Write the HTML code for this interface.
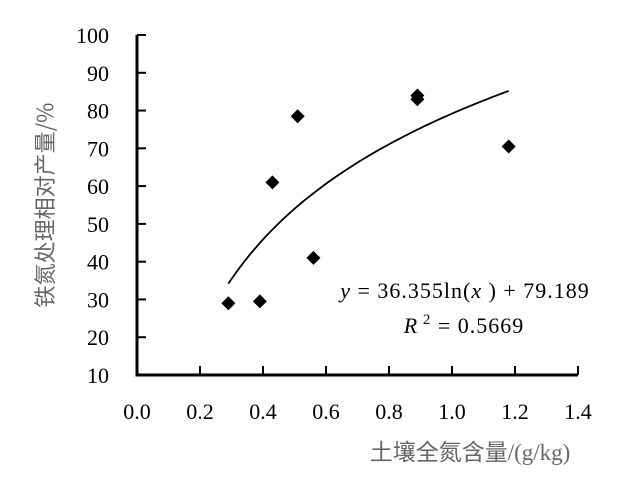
<!DOCTYPE html>
<html><head><meta charset="utf-8"><style>
body{margin:0;background:#fff}
svg text{font-family:"Liberation Serif","Noto Serif CJK SC",serif}
</style></head><body>
<svg id="chart" width="641" height="476" xmlns="http://www.w3.org/2000/svg">
<g id="axes"></g><g id="marks"></g>
<text transform="translate(53,205) rotate(-90)" text-anchor="middle" font-size="22" fill="#666" style="font-family:'Noto Sans CJK SC',sans-serif">铁氮处理相对产量/%</text>
<text x="470" y="460" text-anchor="middle" font-size="23" fill="#666" style="font-family:'Liberation Serif','Noto Sans CJK SC',serif">土壤全氮含量/(g/kg)</text>
<text x="465" y="298" text-anchor="middle" font-size="22" letter-spacing="1" fill="#000"><tspan font-style="italic">y</tspan> = 36.355ln(<tspan font-style="italic">x</tspan> ) + 79.189</text>
<text x="464" y="333" text-anchor="middle" font-size="22" letter-spacing="1" fill="#000"><tspan font-style="italic">R</tspan><tspan dy="-9" font-size="15"> 2</tspan><tspan dy="9"> = 0.5669</tspan></text>
</svg>
<script>
const xTicks=["0.0","0.2","0.4","0.6","0.8","1.0","1.2","1.4"];
const yTicks=["10","20","30","40","50","60","70","80","90","100"];
const xs=[0.29,0.39,0.43,0.51,0.56,0.89,0.89,1.18];
const ys=[29,29.5,61,78.5,41,84,83,70.5];
const fitA=36.355, fitB=79.189, fitMin=0.29, fitMax=1.18;
const NS="http://www.w3.org/2000/svg";
const X=v=>137+v*315, Y=v=>375-(v-10)*(340/90);
function mk(t,a,p){const e=document.createElementNS(NS,t);for(const k in a)e.setAttribute(k,a[k]);p.appendChild(e);return e;}
const ax=document.getElementById('axes'), mg=document.getElementById('marks');
const axl=mk('path',{d:`M${X(0)},${Y(100)}V${Y(10)}H${X(1.4)}`,fill:'none',stroke:'#000','stroke-width':3},ax);


yTicks.forEach(t=>{const v=+t,y=Y(v);
 const l=mk('line',{x1:X(0),x2:X(0)+9,y1:y,y2:y,stroke:'#000','stroke-width':2},ax);
 
 
 const tx=mk('text',{x:109,y:y+8,'text-anchor':'end','font-size':22,fill:'#000'},ax);tx.textContent=t;
 
 });
xTicks.forEach(t=>{const v=+t,x=X(v);
 const l=mk('line',{x1:x,x2:x,y1:Y(10),y2:Y(10)-9,stroke:'#000','stroke-width':2},ax);
 
 
 const tx=mk('text',{x:x,y:419,'text-anchor':'middle','font-size':22,fill:'#000'},ax);tx.textContent=t;
 
 });
let d='';for(let i=0;i<=80;i++){const v=fitMin+(fitMax-fitMin)*i/80;d+=(i?'L':'M')+X(v).toFixed(1)+','+Y(fitA*Math.log(v)+fitB).toFixed(1);}
const fl=mk('path',{d:d,fill:'none',stroke:'#000','stroke-width':1.8},mg);


xs.forEach((v,i)=>{const cx=X(v),cy=Y(ys[i]);
 const p=mk('path',{d:`M${cx},${cy-7}L${cx+7},${cy}L${cx},${cy+7}L${cx-7},${cy}Z`,fill:'#000'},mg);
 
 });
</script>
</body></html>
